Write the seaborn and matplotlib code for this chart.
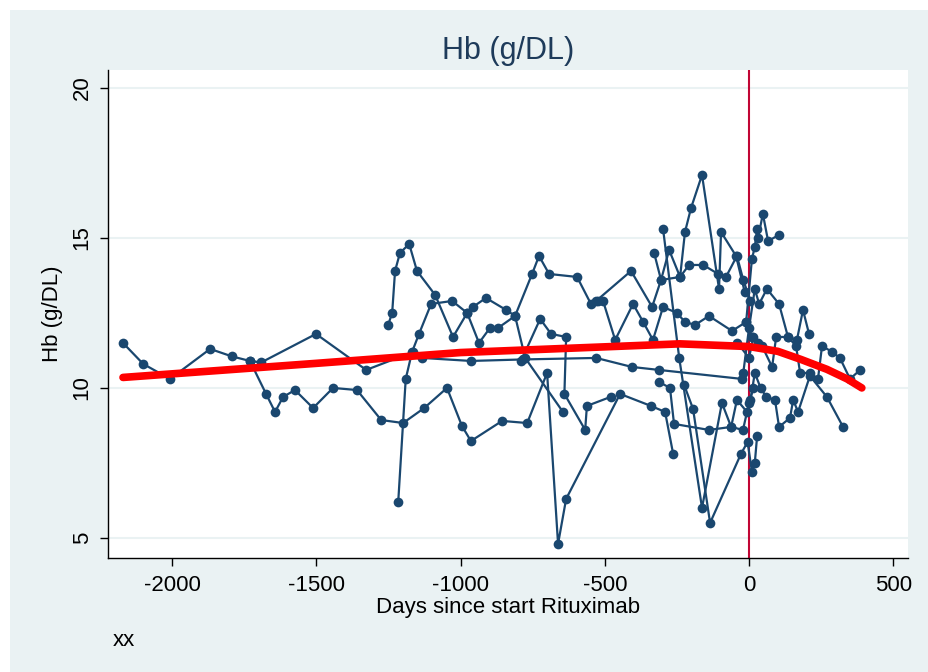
import pandas as pd
import seaborn as sns
import matplotlib.pyplot as plt
from matplotlib.patches import Rectangle

# Hb per patient, days relative to start of Rituximab
days_p1 = [-2170, -2100, -2007, -1868, -1792, -1730, -1691, -1501, -1327, -1165, -1133, -964, -783, -530, -406, -312, -24]
hb_p1 = [11.5, 10.8, 10.3, 11.3, 11.05, 10.9, 10.85, 11.8, 10.6, 11.2, 11.0, 10.9, 10.95, 11.0, 10.7, 10.6, 10.3]

days_p2 = [-1730, -1674, -1643, -1615, -1574, -1511, -1442, -1359, -1275, -1199, -1126, -1047, -995, -964, -856, -769, -700, -662, -634, -447, -340, -291, -263]
hb_p2 = [10.9, 9.8, 9.2, 9.7, 9.93, 9.33, 10.0, 9.93, 8.93, 8.83, 9.33, 10.0, 8.73, 8.23, 8.9, 8.83, 10.5, 4.8, 6.3, 9.8, 9.4, 9.2, 7.8]

days_p3 = [-1251, -1237, -1227, -1210, -1178, -1151, -1088, -1026, -977, -957, -912, -842, -811, -776, -645]
hb_p3 = [12.1, 12.5, 13.9, 14.5, 14.8, 13.9, 13.1, 11.7, 12.5, 12.7, 13.0, 12.6, 12.4, 11.0, 9.2]

days_p8 = [-1216, -1190, -1168, -1144, -1102, -1029, -977, -936, -898, -870, -811, -752, -728, -693, -596, -548, -523]
hb_p8 = [6.2, 10.3, 11.2, 11.8, 12.8, 12.9, 12.5, 11.5, 12.0, 12.0, 12.4, 13.8, 14.4, 13.8, 13.7, 12.8, 12.9]

days_p14 = [-790, -724, -686, -634, -640, -568, -562, -480]
hb_p14 = [10.9, 12.3, 11.8, 11.7, 9.8, 8.6, 9.4, 9.7]

days_p4 = [-506, -464, -402, -367, -333, -298, -250, -222, -187, -139, -59, -10, 10, 30]
hb_p4 = [12.9, 11.6, 12.8, 12.2, 11.6, 12.7, 12.5, 12.2, 12.1, 12.4, 11.9, 12.2, 11.7, 11.5]

days_p5 = [-530, -409, -336, -305, -239, -208, -159, -107, -80, -42, -20, 5]
hb_p5 = [12.9, 13.9, 12.7, 13.6, 13.7, 14.1, 14.1, 13.8, 13.7, 14.4, 13.6, 12.9]

days_p6 = [-329, -305, -277, -239, -222, -201, -163, -104, -97, -45, -15]
hb_p6 = [14.5, 13.6, 14.6, 13.7, 15.2, 16.0, 17.1, 13.3, 15.2, 14.4, 13.2]

days_p7 = [-298, -242, -163, -94, -62, -21, 0, 15]
hb_p7 = [15.3, 11.0, 6.0, 9.5, 8.7, 8.6, 9.5, 10.0]

days_p13 = [-225, -194, -135, -28, -5, 10, 20, 28]
hb_p13 = [10.1, 9.3, 5.5, 7.8, 8.2, 7.2, 7.5, 8.4]

days_p12 = [-312, -274, -260, -139, -62, -42, -7]
hb_p12 = [10.2, 10.0, 8.8, 8.6, 8.7, 9.6, 9.2]

days_p9 = [-10, 10, 20, 28, 31, 48, 66, 104]
hb_p9 = [12.2, 14.3, 14.7, 15.3, 15.0, 15.8, 14.9, 15.1]

days_p10 = [-20, 0, 20, 35, 62, 104, 135, 166, 187, 208]
hb_p10 = [10.5, 12.0, 13.3, 12.8, 13.3, 12.8, 11.7, 11.6, 12.6, 11.8]

days_p11 = [-40, 0, 15, 45, 80, 94, 135, 163, 177, 211, 239, 253, 288, 315, 350, 385]
hb_p11 = [11.5, 11.0, 11.7, 11.4, 10.7, 11.7, 11.7, 11.4, 10.5, 10.5, 10.3, 11.4, 11.2, 11.0, 10.3, 10.6]

days_p16 = [5, 20, 40, 60, 90, 104, 142, 153, 170, 211, 270, 326]
hb_p16 = [9.6, 10.5, 10.0, 9.7, 9.6, 8.7, 9.0, 9.6, 9.2, 10.4, 9.7, 8.7]

# red smoothed curve as drawn in the chart
smooth_days = [-2170, -1500, -1000, -500, -240, 0, 100, 180, 270, 340, 391]
smooth_hb = [10.35, 10.82, 11.18, 11.37, 11.47, 11.38, 11.22, 10.95, 10.62, 10.3, 10.0]

series = [(days_p1, hb_p1), (days_p2, hb_p2), (days_p3, hb_p3), (days_p8, hb_p8),
          (days_p14, hb_p14), (days_p4, hb_p4), (days_p5, hb_p5), (days_p6, hb_p6),
          (days_p7, hb_p7), (days_p13, hb_p13), (days_p12, hb_p12), (days_p9, hb_p9),
          (days_p10, hb_p10), (days_p11, hb_p11), (days_p16, hb_p16)]
rows = []
for pid, (d, h) in enumerate(series):
    for dd, hh in zip(d, h):
        rows.append({"patient": pid, "days": dd, "hb": hh})
df = pd.DataFrame(rows)

sns.set_theme(style="white")
plt.rcParams['font.family'] = ['Liberation Sans Narrow', 'Liberation Sans', 'DejaVu Sans']
plt.rcParams['axes.unicode_minus'] = False

fig = plt.figure(figsize=(9.29, 6.72), dpi=100)
fig.patch.set_facecolor("white")
fig.add_artist(Rectangle((10 / 929, 0), 1, 662 / 672, transform=fig.transFigure,
                         facecolor="#EAF2F3", edgecolor="none", zorder=-10))

ax = fig.add_axes([108 / 929, 1 - 558 / 672, 800 / 929, 488 / 672])
ax.set_facecolor("white")

ax.axvline(0, color="#C10534", lw=1.5, zorder=1)
sns.lineplot(data=df, x="days", y="hb", units="patient", estimator=None, sort=False,
             color="#1A476F", marker="o", markersize=7, markeredgewidth=0,
             linewidth=1.6, ax=ax, zorder=2)
sns.lineplot(x=smooth_days, y=smooth_hb, color="red", linewidth=5.5, ax=ax, zorder=3)

ax.set_xlim(-2222, 551)
ax.set_ylim(4.33, 20.6)
ax.set_xticks([-2000, -1500, -1000, -500, 0, 500])
ax.set_yticks([5, 10, 15, 20])
ax.yaxis.grid(True, color="#EAF2F3", lw=1.5)
ax.xaxis.grid(False)
ax.set_axisbelow(True)
for s in ["top", "right"]:
    ax.spines[s].set_visible(False)
for s in ["left", "bottom"]:
    ax.spines[s].set_color("black")
    ax.spines[s].set_linewidth(1)
ax.tick_params(axis="both", direction="out", length=6, width=1, color="black",
               labelsize=16, labelcolor="black", pad=6, left=True, bottom=True)
ax.tick_params(axis="y", labelrotation=90, pad=5)
for lab in ax.get_yticklabels():
    lab.set_va("center")

ax.set_title("Hb (g/DL)", fontsize=22, color="#1E3B5A", pad=8)
ax.set_xlabel("Days since start Rituximab", fontsize=16, color="black", labelpad=1)
ax.set_ylabel("Hb (g/DL)", fontsize=16, color="black", labelpad=6)
fig.text(113 / 929, 1 - 641 / 672, "xx", fontsize=16, color="black", va="center")

fig.savefig("out.png", dpi=100)
